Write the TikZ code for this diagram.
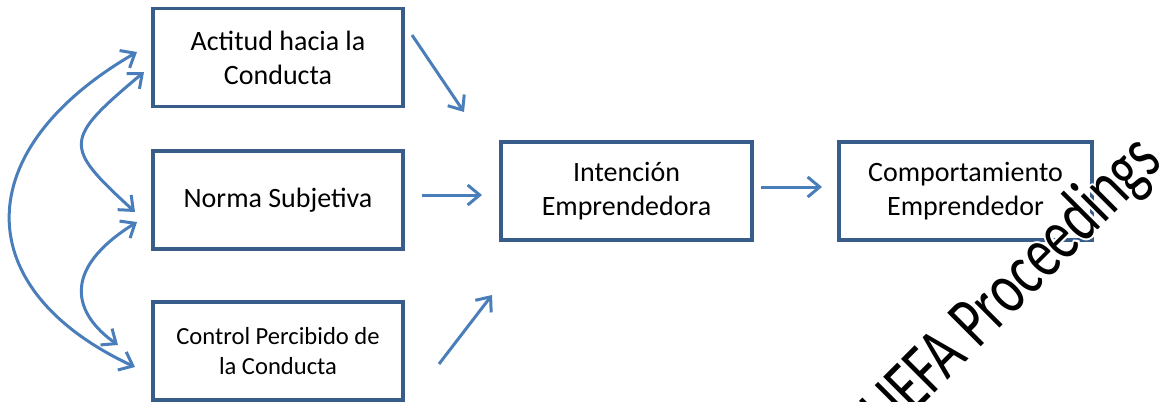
\documentclass[tikz,border=0pt]{standalone}
\usepackage{fontspec}
\setmainfont{Carlito}
\usetikzlibrary{arrows.meta,calc}
\definecolor{boxblue}{HTML}{385D8A}
\definecolor{arrblue}{HTML}{4A7EBB}
\begin{document}
\begin{tikzpicture}[x=0.5pt,y=-0.5pt,
  box/.style={draw=boxblue, line width=1.6pt, minimum height=49pt, align=center, inner sep=0pt, font=\fontsize{14}{17}\selectfont},
  arr/.style={draw=arrblue, line width=1.5pt, -{Straight Barb[length=6pt,width=10pt]}},
  darr/.style={draw=arrblue, line width=1.5pt, {Straight Barb[length=6pt,width=10pt]}-{Straight Barb[length=6pt,width=10pt]}},
  wm/.style={anchor=base west, rotate=45, xscale=0.72, inner sep=0pt, font=\fontsize{37}{42}\selectfont}]
\useasboundingbox (0,0) rectangle (1164,402);
% boxes
\node[box, minimum width=125pt] (A) at (278,57.5) {Actitud hacia la\\Conducta};
\node[box, minimum width=125pt] (N) at (278,200) {Norma Subjetiva};
\node[box, minimum width=125pt, font=\fontsize{12.3}{15}\selectfont] (C) at (278,351) {Control Percibido de\\la Conducta};
\node[box, minimum width=125.5pt] (I) at (626.5,191) {Intención\\Emprendedora};
\node[box, minimum width=126.5pt] (B) at (965.5,191) {Comportamiento\\Emprendedor};
% arrow end points
\coordinate (a1) at (412,35);  \coordinate (a2) at (464,112);
\coordinate (n1) at (422,195); \coordinate (n2) at (482,195);
\coordinate (c1) at (439,364); \coordinate (c2) at (492,295);
\coordinate (i1) at (761,187); \coordinate (i2) at (822,187);
\coordinate (bt) at (137,52);  \coordinate (bb) at (135,367);
\coordinate (p1) at (144,72);  \coordinate (p2) at (135,212);
\coordinate (q1) at (137,222); \coordinate (q2) at (118,345);
\draw[arr] (a1) -- (a2);
\draw[arr] (n1) -- (n2);
\draw[arr] (c1) -- (c2);
\draw[arr] (i1) -- (i2);
\draw[darr] (bt) .. controls (-32,150) and (-32,289) .. (bb);
\draw[darr] (p1) .. controls (63,140) and (63,146) .. (p2);
\draw[darr] (q1) .. controls (60,270) and (74,314) .. (q2);
% watermark
\begin{scope}
\clip (0,0) rectangle (1164,402);
\coordinate (w) at (890,438);
\foreach \dx/\dy in {2/0,-2/0,0/2,0/-2,1.4/1.4,-1.4/1.4,1.4/-1.4,-1.4/-1.4}
  \node[wm, text=white] at ($(w)+(\dx,\dy)$) {UEFA Proceedings};
\node[wm, text=black] (W) at (w) {UEFA Proceedings};
\end{scope}
\end{tikzpicture}
\end{document}
